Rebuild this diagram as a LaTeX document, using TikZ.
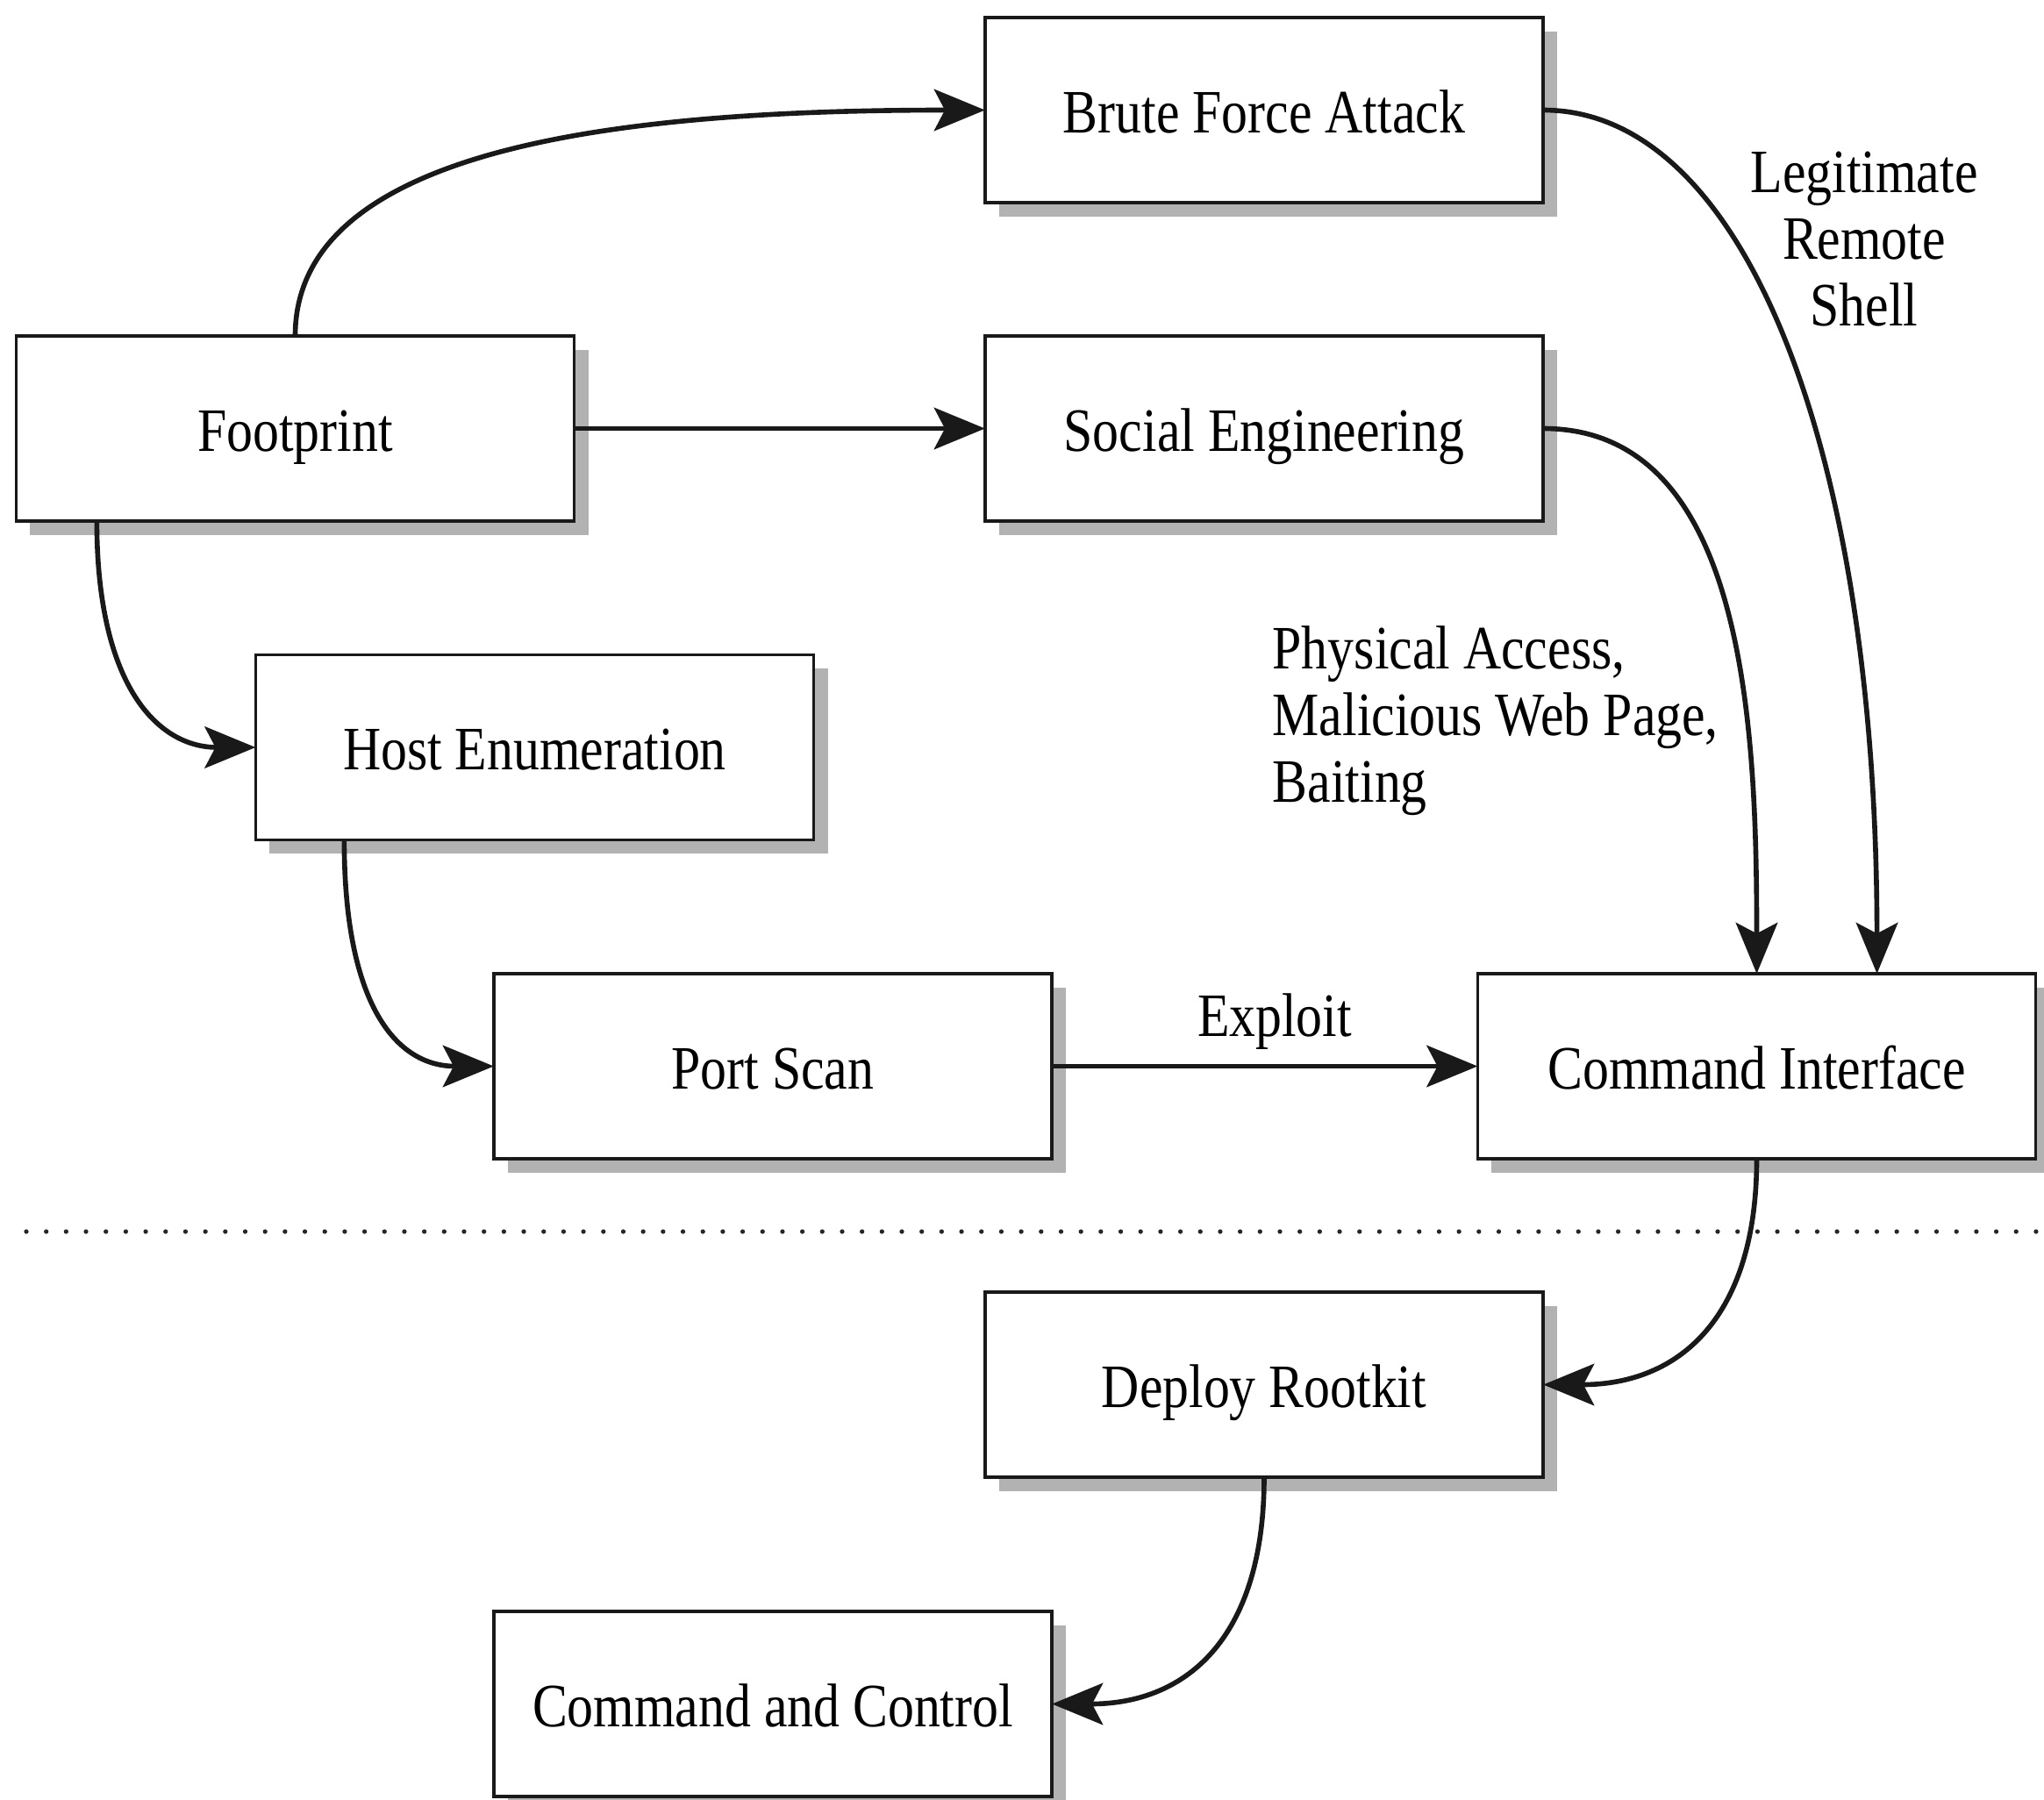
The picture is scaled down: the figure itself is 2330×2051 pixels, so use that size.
\documentclass[tikz,border=0pt]{standalone}
\usepackage{fontspec}
\setmainfont{Liberation Serif}[FakeStretch=0.85]
\usetikzlibrary{arrows.meta,shadows}
\begin{document}
\begin{tikzpicture}[x=0.01cm,y=-0.01cm,
  box/.style={draw=black!90, line width=1pt, fill=white, minimum width=6.36cm, minimum height=2.11cm, inner sep=0pt, outer sep=0pt, text height=16pt, text depth=1.4pt, font=\fontsize{20}{22}\selectfont, drop shadow={shadow xshift=4.5pt, shadow yshift=-4.5pt, fill=black!30, opacity=1}},
  conn/.style={line width=1.6pt, draw=black!90, -{Stealth[length=16.5pt,width=13.5pt,inset=3.5pt]}},
  lbl/.style={font=\fontsize{20}{21.6}\selectfont, inner sep=0pt}
]
\useasboundingbox (0,0) rectangle (2330,2051);

\node[box] (brute)  at (1441,125.5)  {Brute Force Attack};
\node[box] (foot)   at (336.5,488.5) {Footprint};
\node[box] (social) at (1441,488.5)  {Social Engineering};
\node[box] (host)   at (609.5,852)   {Host Enumeration};
\node[box] (port)   at (881,1215.5)  {Port Scan};
\node[box] (cmd)    at (2002.5,1215.5) {Command Interface};
\node[box] (deploy) at (1441,1578.5) {Deploy Rootkit};
\node[box] (cnc)    at (881,1942.5)  {Command and Control};

\draw[line width=1.5pt, line cap=round, dash pattern=on 0pt off 6.45pt, black!85] (30,1404) -- (2330,1404);

\node[lbl, align=center] (legit) at (2125,273) {Legitimate\\Remote\\Shell};
\node[lbl, align=left, anchor=west] (phys) at (1450,822) {Physical Access,\\Malicious Web Page,\\Baiting};
\node[lbl] (exploit) at (1453,1165) {Exploit};

\draw[conn] (foot.north) .. controls +(0,-213) and +(-423,0) .. (brute.west);
\draw[conn] (foot.east) -- (social.west);
\draw[conn] ([xshift=0.92cm]foot.south west) .. controls +(0,190) and +(-110,0) .. (host.west);
\draw[conn] ([xshift=1.01cm]host.south west) .. controls +(0,190) and +(-110,0) .. (port.west);
\draw[conn] (port.east) -- (cmd.west);
\draw[conn] (social.east) .. controls +(231,0) and +(0,-280) .. (cmd.north);
\draw[conn] (brute.east) .. controls +(232,0) and +(0,-590) .. ([xshift=1.37cm]cmd.north);
\draw[conn] (cmd.south) .. controls +(0,180) and +(156,0) .. (deploy.east);
\draw[conn] (deploy.south) .. controls +(0,180) and +(156,0) .. (cnc.east);
\end{tikzpicture}
\end{document}
